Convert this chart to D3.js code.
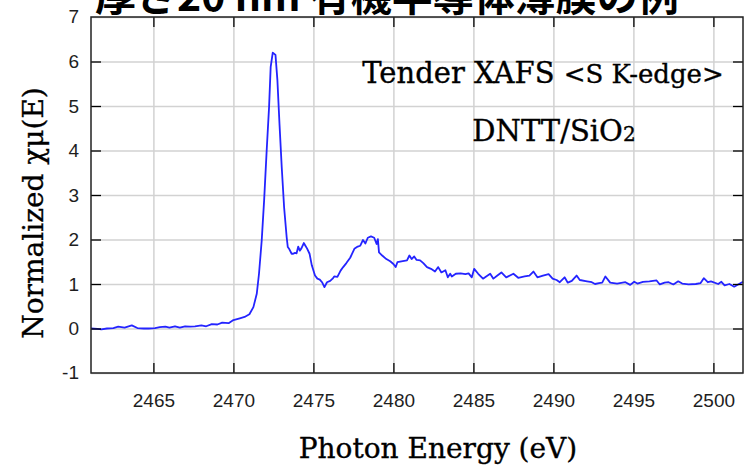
<!DOCTYPE html>
<html>
<head>
<meta charset="utf-8">
<script src="https://cdn.jsdelivr.net/npm/d3@7"></script>
<style>
body { margin: 0; background: #fff; }
svg { display: block; }
</style>
</head>
<body>
<svg id="viz-svg" width="748" height="467"></svg>
<script>
// S K-edge XANES, DNTT/SiO2
const energy = [
	2461.1, 2461.5, 2461.75, 2462.1, 2462.5, 2462.8, 2463.2, 2463.65, 2464.0, 2464.4,
	2464.7, 2465.1, 2465.4, 2465.75, 2466.0, 2466.35, 2466.65, 2466.98, 2467.3, 2467.6,
	2468.0, 2468.3, 2468.65, 2469.0, 2469.3, 2469.7, 2470.0, 2470.4, 2470.7, 2471.0,
	2471.25, 2471.46, 2471.6, 2471.77, 2471.92, 2472.08, 2472.23, 2472.33, 2472.46, 2472.63,
	2472.75, 2472.88, 2473.02, 2473.17, 2473.33, 2473.4, 2473.5, 2473.64, 2473.74, 2473.85,
	2473.95, 2474.05, 2474.15, 2474.25, 2474.4, 2474.5, 2474.6, 2474.76, 2474.9, 2475.1,
	2475.25, 2475.4, 2475.54, 2475.69, 2475.85, 2476.05, 2476.2, 2476.3, 2476.5, 2476.7,
	2476.86, 2477.06, 2477.3, 2477.56, 2477.77, 2477.93, 2478.1, 2478.25, 2478.4, 2478.6,
	2478.8, 2478.95, 2479.03, 2479.1, 2479.3, 2479.56, 2479.8, 2480.0, 2480.14, 2480.25,
	2480.5, 2480.85, 2481.0, 2481.14, 2481.3, 2481.45, 2481.67, 2481.87, 2482.1, 2482.35,
	2482.6, 2482.8, 2483.0, 2483.25, 2483.4, 2483.55, 2483.65, 2483.9, 2484.2, 2484.5,
	2484.7, 2484.9, 2485.05, 2485.3, 2485.6, 2485.8, 2486.05, 2486.25, 2486.5, 2486.75,
	2487.05, 2487.5, 2487.8, 2488.2, 2488.5, 2488.75, 2489.0, 2489.35, 2489.7, 2489.95,
	2490.2, 2490.4, 2490.7, 2490.9, 2491.15, 2491.45, 2491.65, 2492.1, 2492.4, 2492.6,
	2492.85, 2493.05, 2493.25, 2493.55, 2493.98, 2494.5, 2494.8, 2495.05, 2495.25, 2495.6,
	2496.0, 2496.45, 2496.65, 2496.95, 2497.2, 2497.5, 2497.8, 2498.05, 2498.45, 2498.9,
	2499.2, 2499.4, 2499.65, 2499.85, 2500.3, 2500.5, 2500.7, 2501.0, 2501.3, 2501.6,
	2501.85
];

const muNorm = [
	0.00, -0.01, -0.02, 0.00, 0.01, 0.04, 0.02, 0.07, 0.01, 0.00,
	0.00, 0.01, 0.03, 0.04, 0.02, 0.05, 0.02, 0.05, 0.04, 0.05,
	0.07, 0.05, 0.10, 0.09, 0.13, 0.12, 0.19, 0.23, 0.26, 0.32,
	0.48, 0.78, 1.23, 1.98, 2.88, 4.00, 4.98, 5.88, 6.20, 6.15,
	5.58, 4.60, 3.63, 2.72, 2.05, 1.83, 1.78, 1.68, 1.68, 1.70,
	1.69, 1.84, 1.75, 1.80, 1.92, 1.86, 1.80, 1.68, 1.42, 1.19,
	1.12, 1.10, 1.04, 0.93, 1.04, 1.07, 1.12, 1.17, 1.16, 1.30,
	1.38, 1.47, 1.59, 1.79, 1.84, 1.86, 1.99, 1.91, 2.04, 2.07,
	2.04, 1.90, 2.01, 1.71, 1.64, 1.56, 1.51, 1.45, 1.38, 1.49,
	1.51, 1.53, 1.64, 1.56, 1.62, 1.54, 1.53, 1.47, 1.38, 1.34,
	1.28, 1.38, 1.26, 1.31, 1.15, 1.23, 1.17, 1.23, 1.24, 1.22,
	1.24, 1.15, 1.34, 1.23, 1.12, 1.17, 1.23, 1.12, 1.19, 1.26,
	1.15, 1.23, 1.14, 1.17, 1.19, 1.28, 1.15, 1.19, 1.22, 1.12,
	1.09, 1.04, 1.15, 1.03, 1.07, 1.19, 1.09, 1.06, 1.04, 1.00,
	1.02, 1.03, 1.17, 1.03, 1.01, 1.04, 0.98, 1.05, 1.01, 1.05,
	1.06, 1.08, 0.99, 1.03, 1.04, 0.99, 1.06, 1.01, 0.99, 1.00,
	1.02, 1.13, 1.04, 1.06, 1.00, 1.05, 0.97, 1.00, 0.94, 1.00,
	1.05
];

const xTicks = [2465, 2470, 2475, 2480, 2485, 2490, 2495, 2500];
const yTicks = [-1, 0, 1, 2, 3, 4, 5, 6, 7];

const titleText = "厚さ20 nm 有機半導体薄膜の例";
const xLabel = "Photon Energy (eV)";
const yLabel = "Normalized χμ(E)";

const svg = d3.select("#viz-svg");

const margin = {top: 17, right: 5, bottom: 94, left: 91};
const canvasWidth = 748 - margin.left - margin.right;
const canvasHeight = 467 - margin.top - margin.bottom;

const g = svg.append("g")
	.attr("transform", "translate(" + margin.left + "," + margin.top + ")");

let scaleX = d3.scaleLinear()
	.range([0, canvasWidth])
	.domain([2461.1, 2501.85]);

let scaleY = d3.scaleLinear()
	.range([canvasHeight, 0])
	.domain([-1, 7]);

const tickFont = "'Liberation Sans', Arial, sans-serif";
const serifFont = "'DejaVu Serif', serif";

// title, cut off at the top of the picture
svg.append("text")
	.attr("x", 95)
	.attr("y", 11)
	.attr("font-family", "'Noto Sans CJK JP', sans-serif")
	.attr("font-weight", "bold")
	.attr("font-size", 41)
	.attr("fill", "#000")
	.text(titleText);

// grid
g.append("g")
	.attr("transform", "translate(0," + canvasHeight + ")")
	.call(d3.axisBottom(scaleX).tickValues(xTicks).tickSize(-canvasHeight).tickFormat(""))
	.call(a => a.select(".domain").remove())
	.selectAll("line").attr("stroke", "#d2d2d2").attr("stroke-width", 1.5);

g.append("g")
	.call(d3.axisLeft(scaleY).tickValues(yTicks).tickSize(-canvasWidth).tickFormat(""))
	.call(a => a.select(".domain").remove())
	.selectAll("line").attr("stroke", "#d2d2d2").attr("stroke-width", 1.5);

// curve
let line = d3.line()
	.x((d, i) => scaleX(energy[i]))
	.y(d => scaleY(d));

g.append("path")
	.datum(muNorm)
	.attr("fill", "none")
	.attr("stroke", "#2424ff")
	.attr("stroke-width", 1.8)
	.attr("stroke-linejoin", "round")
	.attr("d", line);

// axes with inward ticks on all sides
const bottomAxisG = g.append("g")
	.attr("transform", "translate(0," + canvasHeight + ")")
	.call(d3.axisBottom(scaleX).tickValues(xTicks).tickSizeInner(-10).tickSizeOuter(0).tickPadding(21).tickFormat(d3.format("d")));

const topAxisG = g.append("g")
	.call(d3.axisTop(scaleX).tickValues(xTicks).tickSizeInner(-10).tickSizeOuter(0).tickFormat(""));

const leftAxisG = g.append("g")
	.call(d3.axisLeft(scaleY).tickValues(yTicks.slice(1, -1)).tickSizeInner(-10).tickSizeOuter(0).tickPadding(12));

const rightAxisG = g.append("g")
	.attr("transform", "translate(" + canvasWidth + ",0)")
	.call(d3.axisRight(scaleY).tickValues(yTicks.slice(1, -1)).tickSizeInner(-10).tickSizeOuter(0).tickFormat(""));

// labels for -1 and 7 sit on the frame corners
leftAxisG.selectAll(".endlabel")
	.data([yTicks[0], yTicks[yTicks.length - 1]])
	.enter().append("text")
	.attr("class", "endlabel")
	.attr("x", -12)
	.attr("y", d => scaleY(d))
	.attr("dy", "0.32em")
	.attr("text-anchor", "end")
	.text(d => d);

[bottomAxisG, topAxisG, leftAxisG, rightAxisG].forEach(a => {
	a.select(".domain").remove();
	a.selectAll("line").attr("stroke", "#000").attr("stroke-width", 1.3);
	a.selectAll("text")
		.attr("font-family", tickFont)
		.attr("font-size", 19)
		.attr("fill", "#1e1e1e");
});

// frame
g.append("rect")
	.attr("width", canvasWidth)
	.attr("height", canvasHeight)
	.attr("fill", "none")
	.attr("stroke", "#222")
	.attr("stroke-width", 1.5);

// annotations
const note1 = g.append("text")
	.attr("x", 543 - margin.left)
	.attr("y", 83 - margin.top)
	.attr("font-family", serifFont)
	.attr("fill", "#000")
	.attr("stroke", "#000")
	.attr("stroke-width", 0.35)
	.attr("text-anchor", "middle");
note1.append("tspan").attr("font-size", 29).text("Tender XAFS ");
note1.append("tspan").attr("font-size", 26).text("<S K-edge>");

const note2 = g.append("text")
	.attr("x", 554 - margin.left)
	.attr("y", 141 - margin.top)
	.attr("font-family", serifFont)
	.attr("fill", "#000")
	.attr("stroke", "#000")
	.attr("stroke-width", 0.35)
	.attr("text-anchor", "middle");
note2.append("tspan").attr("font-size", 29).text("DNTT/SiO");
note2.append("tspan").attr("font-size", 20).text("2");

// axis titles
svg.append("text")
	.attr("x", 438)
	.attr("y", 458)
	.attr("text-anchor", "middle")
	.attr("font-family", serifFont)
	.attr("font-size", 28)
	.attr("fill", "#000")
	.attr("stroke", "#000")
	.attr("stroke-width", 0.35)
	.text(xLabel);

svg.append("text")
	.attr("transform", "translate(43,213) rotate(-90)")
	.attr("text-anchor", "middle")
	.attr("font-family", serifFont)
	.attr("font-size", 28)
	.attr("fill", "#000")
	.attr("stroke", "#000")
	.attr("stroke-width", 0.35)
	.text(yLabel);
</script>
</body>
</html>
